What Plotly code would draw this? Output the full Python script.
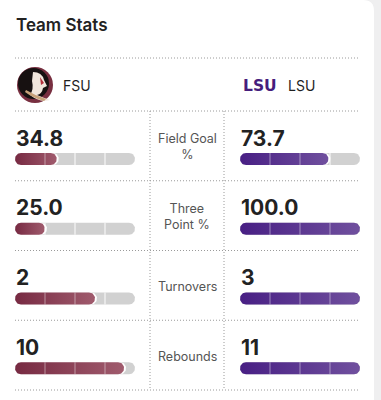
import numpy as np
import plotly.graph_objects as go

# ---------------- data ----------------
title = "Team Stats"
team_names = ["FSU", "LSU"]
stat_labels = ["Field Goal<br>%", "Three<br>Point %", "Turnovers", "Rebounds"]
fsu_values = [34.8, 25.0, 2, 10]
lsu_values = [73.7, 100.0, 3, 11]
fsu_text = ["34.8", "25.0", "2", "10"]
lsu_text = ["73.7", "100.0", "3", "11"]
is_percent = [True, True, False, False]

# ---------------- styling / layout ----------------
W, H = 381, 400
FONT = "Inter"
FSU_GRAD = [[0, "#772a42"], [1, "#a05b6d"]]
LSU_GRAD = [[0, "#481f84"], [1, "#70509e"]]
TRACK = "#d1d1d1"
DOT = "#9a9a9a"
ROW_TOP0, ROW_H = 111, 69.75
BAR_PX = 120
BAR_H = 12
LEFT_BAR_X0, RIGHT_BAR_X0 = 15, 240

fig = go.Figure()


def pill(x0, x1, yc, h, rx):
    ry = h / 2
    if x1 - x0 < 2 * rx:
        rx = (x1 - x0) / 2
    tl = np.linspace(np.pi / 2, 3 * np.pi / 2, 24)
    tr = np.linspace(-np.pi / 2, np.pi / 2, 24)
    xs = np.concatenate([x0 + rx + rx * np.cos(tl), x1 - rx + rx * np.cos(tr)])
    ys = np.concatenate([yc + ry * np.sin(tl), yc + ry * np.sin(tr)])
    xs = np.append(xs, xs[0])
    ys = np.append(ys, ys[0])
    return xs, ys


def add_pill(axis, x0, x1, yc, color=None, grad=None):
    xs, ys = pill(x0, x1, yc, BAR_H, (BAR_H / 2) / BAR_PX)
    kw = dict(x=xs, y=ys, mode="lines", fill="toself", line=dict(width=0),
              hoverinfo="skip", showlegend=False, xaxis=axis, yaxis="y")
    if grad is not None:
        kw["fillgradient"] = dict(type="horizontal", colorscale=grad)
    else:
        kw["fillcolor"] = color
    fig.add_trace(go.Scatter(**kw))


shapes = []
annotations = []

# card background
shapes.append(dict(type="path", xref="x", yref="y", layer="below",
                   path="M -5,0 L 363,0 Q 374,0 374,11 L 374,405 L -5,405 Z",
                   fillcolor="white", line=dict(width=0)))

# title
annotations.append(dict(x=14, y=25, xref="x", yref="y", xanchor="left", yanchor="middle",
                        text=title, showarrow=False,
                        font=dict(family=FONT, size=17, color="#222222", weight=600)))

# dotted separators
hlines = [58] + [ROW_TOP0 + ROW_H * i for i in range(5)]
for yv in hlines:
    shapes.append(dict(type="line", xref="x", yref="y", x0=15, x1=360, y0=yv, y1=yv,
                       line=dict(color=DOT, width=1, dash="1px,2px")))
for xv in [150, 224]:
    shapes.append(dict(type="line", xref="x", yref="y", x0=xv, x1=xv,
                       y0=ROW_TOP0, y1=ROW_TOP0 + 4 * ROW_H,
                       line=dict(color=DOT, width=1, dash="1px,2px")))

# team header: FSU logo (approximation) and LSU wordmark
shapes.append(dict(type="circle", xref="x", yref="y", x0=17, x1=53, y0=67, y1=103,
                   fillcolor="#782F40", line=dict(width=0)))
shapes.append(dict(type="circle", xref="x", yref="y", x0=18, x1=49, y0=68, y1=99,
                   fillcolor="#171111", line=dict(width=0)))
shapes.append(dict(type="path", xref="x", yref="y",
                   path="M 33,72 Q 42,72 44,80 L 47,86 L 43,88 Q 42,94 37,95 Q 44,98 50,100 "
                        "Q 40,103 30,95 Q 34,89 32,81 Z",
                   fillcolor="#f1e6dc", line=dict(width=0)))
shapes.append(dict(type="path", xref="x", yref="y",
                   path="M 40,77 L 44,83 L 41,85 Z", fillcolor="#b4303c", line=dict(width=0)))
shapes.append(dict(type="path", xref="x", yref="y",
                   path="M 26,90 Q 36,96 46,99 L 44,101 Q 33,98 25,92 Z",
                   fillcolor="#c8a27a", line=dict(width=0)))
annotations.append(dict(x=61, y=85, xref="x", yref="y", xanchor="left", yanchor="middle",
                        text=team_names[0], showarrow=False,
                        font=dict(family=FONT, size=14, color="#1f1f1f")))
annotations.append(dict(x=259.5, y=86, xref="x", yref="y", xanchor="center", yanchor="middle",
                        text="<b>LSU</b>", showarrow=False,
                        font=dict(family="DejaVu Sans", size=15.5, color="#461D7C")))
annotations.append(dict(x=286, y=85, xref="x", yref="y", xanchor="left", yanchor="middle",
                        text=team_names[1], showarrow=False,
                        font=dict(family=FONT, size=14, color="#1f1f1f")))

# stat rows
for i in range(len(stat_labels)):
    top = ROW_TOP0 + ROW_H * i
    yc_bar = top + 48
    scale = 100.0 if is_percent[i] else max(fsu_values[i], lsu_values[i])
    for axis, vals, txts, grad, x0px in [("x2", fsu_values, fsu_text, FSU_GRAD, LEFT_BAR_X0),
                                         ("x3", lsu_values, lsu_text, LSU_GRAD, RIGHT_BAR_X0)]:
        frac = vals[i] / scale
        add_pill(axis, 0, 1, yc_bar, color=TRACK)
        if frac < 1:
            add_pill(axis, 0, min(1, frac + 2.0 / BAR_PX), yc_bar, color="white")
        add_pill(axis, 0, frac, yc_bar, grad=grad)
        for q in [0.25, 0.5, 0.75]:
            col = "rgba(255,255,255,0.45)" if q < frac else "rgba(255,255,255,0.95)"
            shapes.append(dict(type="line", xref=axis, yref="y", x0=q, x1=q,
                               y0=yc_bar - BAR_H / 2, y1=yc_bar + BAR_H / 2,
                               line=dict(color=col, width=1)))
        annotations.append(dict(x=x0px - 1, y=top + 27, xref="x", yref="y",
                                xanchor="left", yanchor="middle", text="<b>%s</b>" % txts[i],
                                showarrow=False,
                                font=dict(family=FONT, size=21, color="#222222")))
    annotations.append(dict(x=187, y=top + (35.5 if "<br>" in stat_labels[i] else 36),
                            xref="x", yref="y", xanchor="center", yanchor="middle",
                            text=stat_labels[i], showarrow=False,
                            font=dict(family=FONT, size=12.5, color="#555555")))

fig.update_layout(
    width=W, height=H, autosize=False,
    margin=dict(l=0, r=0, t=0, b=0, pad=0),
    paper_bgcolor="#efeff0", plot_bgcolor="rgba(0,0,0,0)",
    xaxis=dict(range=[0, W], domain=[0, 1], visible=False, fixedrange=True),
    yaxis=dict(range=[H, 0], domain=[0, 1], visible=False, fixedrange=True),
    xaxis2=dict(range=[0, 1], domain=[LEFT_BAR_X0 / W, (LEFT_BAR_X0 + BAR_PX) / W],
                anchor="y", visible=False, fixedrange=True),
    xaxis3=dict(range=[0, 1], domain=[RIGHT_BAR_X0 / W, (RIGHT_BAR_X0 + BAR_PX) / W],
                anchor="y", visible=False, fixedrange=True),
    shapes=shapes, annotations=annotations, showlegend=False,
)

fig.write_html("out.html", config={"displayModeBar": False})
